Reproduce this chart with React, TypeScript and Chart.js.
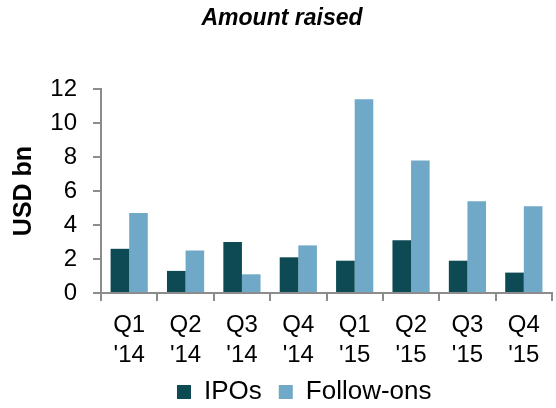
import React, { useEffect, useRef } from "react";
import { Chart, registerables } from "chart.js";

Chart.register(...registerables);

const categories: string[][] = [
  ["Q1", "'14"], ["Q2", "'14"], ["Q3", "'14"], ["Q4", "'14"],
  ["Q1", "'15"], ["Q2", "'15"], ["Q3", "'15"], ["Q4", "'15"],
];
const ipos: number[] = [2.6, 1.3, 3.0, 2.1, 1.9, 3.1, 1.9, 1.2];
const followOns: number[] = [4.7, 2.5, 1.1, 2.8, 11.4, 7.8, 5.4, 5.1];
const yTickMin = 0;
const yTickMax = 12;
const yTickStep = 2;

const FONT = "'Liberation Sans', Arial, sans-serif";
const AXIS = "#8c8c8c";

// fine placement of title and legend blocks
const placeBlocks = {
  id: "placeBlocks",
  afterLayout(chart: any) {
    const t = chart.titleBlock;
    if (t) {
      t.left += 6;
      t.right += 6;
    }
    const l = chart.legend;
    if (l && l.lineWidths) {
      const pad = l.options.labels.padding;
      const start = (l.left + pad + l.right - l.lineWidths[0]) / 2;
      const dx = 177 - start;
      l.left += dx;
      l.right += dx;
      const fs = l.options.labels.font.size;
      const itemH = Math.max(fs, l.options.labels.boxHeight);
      const targetTop = 392 - pad - itemH / 2;
      const dy = targetTop - l.top;
      l.top += dy;
      l.bottom += dy;
    }
  },
};

export default function App() {
  const ref = useRef<HTMLCanvasElement | null>(null);
  useEffect(() => {
    if (!ref.current) return;
    const chart = new Chart(ref.current, {
      type: "bar",
      data: {
        labels: categories,
        datasets: [
          { label: "IPOs", data: ipos, backgroundColor: "#0e4a53", categoryPercentage: 0.66, barPercentage: 1.0 },
          { label: "Follow-ons", data: followOns, backgroundColor: "#70a9c7", categoryPercentage: 0.66, barPercentage: 1.0 },
        ],
      },
      options: {
        animation: false,
        responsive: false,
        layout: { padding: { left: 0, right: 4, top: 0, bottom: 0 } },
        plugins: {
          title: {
            display: true,
            text: "Amount raised",
            color: "#000",
            font: { family: FONT, size: 23, weight: "bold", style: "italic", lineHeight: 1.2 },
            padding: { top: 5, bottom: 56.4 },
          },
          legend: {
            position: "bottom",
            maxHeight: 38,
            labels: {
              color: "#000",
              font: { family: FONT, size: 26 },
              boxWidth: 14,
              boxHeight: 14,
              padding: 17,
            },
          },
          tooltip: { enabled: false },
        },
        scales: {
          x: {
            offset: true,
            afterFit: (s: any) => { s.height = 77; },
            grid: { offset: true, drawOnChartArea: false, drawTicks: true, tickLength: 8, color: AXIS, lineWidth: 2 },
            border: { display: true, color: AXIS, width: 2 },
            ticks: { color: "#000", font: { family: FONT, size: 24, lineHeight: 1.25 }, padding: 9, maxRotation: 0, autoSkip: false },
          },
          y: {
            min: yTickMin,
            max: yTickMax,
            afterFit: (s: any) => { s.width = 101; },
            grid: { drawOnChartArea: false, drawTicks: true, tickLength: 8, color: AXIS, lineWidth: 2 },
            border: { display: true, color: AXIS, width: 2 },
            ticks: { stepSize: yTickStep, color: "#000", font: { family: FONT, size: 24 }, padding: 16 },
            title: {
              display: true,
              text: "USD bn",
              color: "#000",
              font: { family: FONT, size: 25, weight: "bold", lineHeight: 1.2 },
              padding: { top: 9, bottom: 0 },
            },
          },
        },
      },
      plugins: [placeBlocks],
    });
    return () => chart.destroy();
  }, []);
  return (
    <div style={{ position: "absolute", left: 0, top: 0, width: 556, height: 408, background: "#fff" }}>
      <canvas ref={ref} width={556} height={408} />
    </div>
  );
}
